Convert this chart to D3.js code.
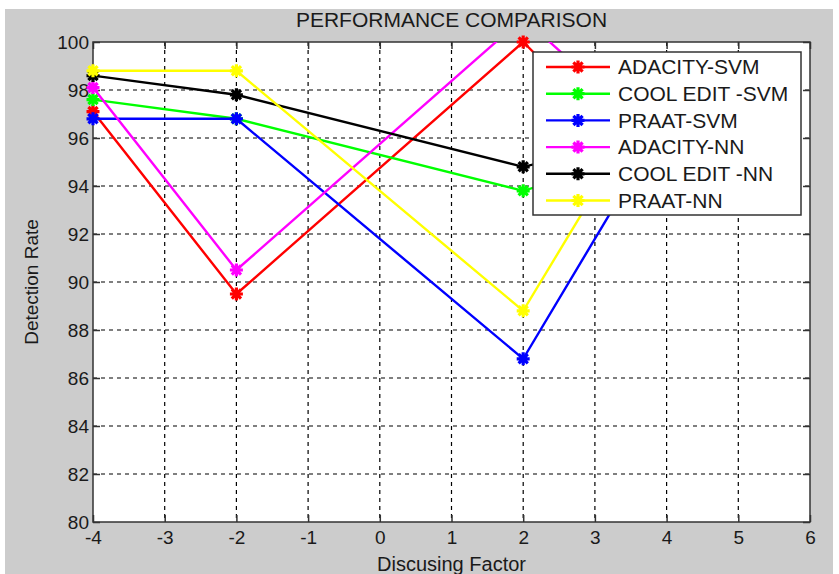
<!DOCTYPE html>
<html>
<head>
<meta charset="utf-8">
<script src="https://cdn.jsdelivr.net/npm/d3@7"></script>
<style>
  html, body { margin: 0; padding: 0; background: #ffffff; }
  svg { display: block; font-family: "Liberation Sans", Arial, sans-serif; }
</style>
</head>
<body>
<svg id="chart" width="839" height="574"></svg>
<script>
// ---- data ----
const xValues = [-4, -2, 2, 4];
const seriesNames = ["ADACITY-SVM", "COOL EDIT -SVM", "PRAAT-SVM", "ADACITY-NN", "COOL EDIT -NN", "PRAAT-NN"];
const seriesColors = ["#ff0000", "#00ff00", "#0000ff", "#ff00ff", "#000000", "#ffff00"];
const adacitySvm  = [97.1, 89.5, 100.0, 94.0];
const coolEditSvm = [97.6, 96.8, 93.8, 95.6];
const praatSvm    = [96.8, 96.8, 86.8, 96.8];
const adacityNn   = [98.1, 90.5, 101.0, 95.6];
const coolEditNn  = [98.6, 97.8, 94.8, 96.2];
const praatNn     = [98.8, 98.8, 88.8, 98.7];
const seriesValues = [adacitySvm, coolEditSvm, praatSvm, adacityNn, coolEditNn, praatNn];
const xTicks = [-4, -3, -2, -1, 0, 1, 2, 3, 4, 5, 6];
const yTicks = [80, 82, 84, 86, 88, 90, 92, 94, 96, 98, 100];
const titleText = "PERFORMANCE COMPARISON";
const xLabelText = "Discusing Factor";
const yLabelText = "Detection Rate";

// ---- layout ----
const L = 93, R = 810, T = 42, B = 522;
const svg = d3.select("#chart");
svg.append("rect").attr("x", 5).attr("y", 9).attr("width", 828).attr("height", 565).attr("fill", "#cccccc");

const x = d3.scaleLinear().domain([-4, 6]).range([L, R]);
const y = d3.scaleLinear().domain([80, 100]).range([B, T]);

svg.append("rect").attr("x", L).attr("y", T).attr("width", R - L).attr("height", B - T).attr("fill", "#ffffff");

// grid
const grid = svg.append("g").attr("stroke", "#000").attr("stroke-width", 1.2).attr("stroke-dasharray", "4,4");
grid.selectAll("line.v").data(xTicks.slice(1, -1)).enter().append("line")
  .attr("x1", d => x(d)).attr("x2", d => x(d)).attr("y1", T).attr("y2", B);
grid.selectAll("line.h").data(yTicks.slice(1, -1)).enter().append("line")
  .attr("y1", d => y(d)).attr("y2", d => y(d)).attr("x1", L).attr("x2", R);

// axes (ticks inside)
const tl = 7;
const fmt = d => String(d);
const axB = svg.append("g").attr("transform", `translate(0,${B})`).call(d3.axisBottom(x).tickValues(xTicks).tickSize(-tl).tickPadding(9).tickFormat(fmt));
const axT = svg.append("g").attr("transform", `translate(0,${T})`).call(d3.axisTop(x).tickValues(xTicks).tickSize(-tl).tickFormat(""));
const axL = svg.append("g").attr("transform", `translate(${L},0)`).call(d3.axisLeft(y).tickValues(yTicks).tickSize(-tl).tickPadding(4).tickFormat(fmt));
const axR = svg.append("g").attr("transform", `translate(${R},0)`).call(d3.axisRight(y).tickValues(yTicks).tickSize(-tl).tickFormat(""));
[axB, axT, axL, axR].forEach(a => {
  a.select(".domain").remove();
  a.selectAll(".tick line").attr("stroke", "#333").attr("stroke-width", 1.5);
  a.selectAll("text").attr("font-family", "'Liberation Sans', Arial, sans-serif").attr("font-size", 19).attr("fill", "#1a1a1a");
});
svg.append("rect").attr("x", L).attr("y", T).attr("width", R - L).attr("height", B - T)
  .attr("fill", "none").attr("stroke", "#333").attr("stroke-width", 1.5);

// clip
svg.append("clipPath").attr("id", "plotclip").append("rect")
  .attr("x", L).attr("y", T).attr("width", R - L).attr("height", B - T);

const line = d3.line().x(d => x(d[0])).y(d => y(d[1]));
function starPath(s) {
  const d = s * 0.7071;
  return `M${-s},0L${s},0M0,${-s}L0,${s}M${-d},${-d}L${d},${d}M${-d},${d}L${d},${-d}`;
}

seriesValues.forEach((vals, i) => {
  const pts = xValues.map((xv, j) => [xv, vals[j]]);
  const g = svg.append("g");
  g.append("path").datum(pts).attr("d", line).attr("clip-path", "url(#plotclip)")
    .attr("fill", "none").attr("stroke", seriesColors[i]).attr("stroke-width", 2.4);
  g.selectAll("path.m").data(pts.filter(p => p[1] >= 80 && p[1] <= 100)).enter().append("path")
    .attr("class", "m")
    .attr("transform", p => `translate(${x(p[0])},${y(p[1])})`)
    .attr("d", starPath(6.5)).attr("fill", "none").attr("stroke", seriesColors[i]).attr("stroke-width", 3.2);
});

// legend
const lgX = 533, lgY = 52, lgW = 268, lgH = 163;
const lg = svg.append("g");
lg.append("rect").attr("x", lgX).attr("y", lgY).attr("width", lgW).attr("height", lgH)
  .attr("fill", "#ffffff").attr("stroke", "#333").attr("stroke-width", 1.5);
seriesNames.forEach((name, i) => {
  const yy = lgY + 15 + i * 26.7;
  lg.append("line").attr("x1", lgX + 13).attr("x2", lgX + 77).attr("y1", yy).attr("y2", yy)
    .attr("stroke", seriesColors[i]).attr("stroke-width", 2.4);
  lg.append("path").attr("transform", `translate(${lgX + 45},${yy})`).attr("d", starPath(6.5))
    .attr("fill", "none").attr("stroke", seriesColors[i]).attr("stroke-width", 3.2);
  lg.append("text").attr("x", lgX + 85).attr("y", yy).attr("dy", "0.35em")
    .attr("font-size", 21).attr("fill", "#1a1a1a").text(name);
});

// titles
svg.append("text").attr("x", (L + R) / 2).attr("y", 27).attr("text-anchor", "middle")
  .attr("font-size", 21).attr("fill", "#1a1a1a").text(titleText);
svg.append("text").attr("x", (L + R) / 2).attr("y", 571).attr("text-anchor", "middle")
  .attr("font-size", 20).attr("fill", "#1a1a1a").text(xLabelText);
svg.append("text").attr("transform", `translate(38,${(T + B) / 2}) rotate(-90)`).attr("text-anchor", "middle")
  .attr("font-size", 19).attr("fill", "#1a1a1a").text(yLabelText);
</script>
</body>
</html>
